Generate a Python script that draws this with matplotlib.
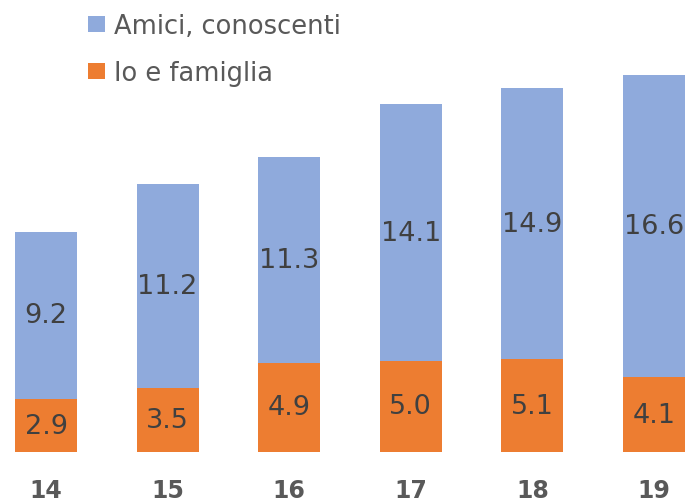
import numpy as np
import matplotlib.pyplot as plt

plt.rcParams['font.family'] = ['DejaVu Sans']

anni = ['14', '15', '16', '17', '18', '19']
io_famiglia = [2.9, 3.5, 4.9, 5.0, 5.1, 4.1]
amici = [9.2, 11.2, 11.3, 14.1, 14.9, 16.6]

col_blu = '#8FAADC'
col_arancio = '#ED7D31'
col_testo = '#404040'

fig = plt.figure(figsize=(6.92, 5.02), dpi=100)
# axes bottom sits on the bar baseline
ax = fig.add_axes([0, 49 / 502, 1, 453 / 502])

x = np.arange(len(anni))
b1 = ax.bar(x, io_famiglia, width=0.51, color=col_arancio, label='Io e famiglia')
b2 = ax.bar(x, amici, width=0.51, bottom=io_famiglia, color=col_blu, label='Amici, conoscenti')

for i in range(len(anni)):
    ax.text(x[i], io_famiglia[i] / 2, f'{io_famiglia[i]:.1f}', ha='center', va='center',
            fontsize=19.5, color=col_testo)
    ax.text(x[i], io_famiglia[i] + amici[i] / 2, f'{amici[i]:.1f}', ha='center', va='center',
            fontsize=19.5, color=col_testo)

ax.set_xlim(-46 / 121.6, (692 - 46) / 121.6)
ax.set_ylim(0, 453 / 18.2)
ax.set_xticks(x)
ax.set_xticklabels(anni, fontsize=17, fontweight='bold', color='#595959')
ax.tick_params(axis='x', length=0, pad=19)
ax.set_yticks([])
for s in ax.spines.values():
    s.set_visible(False)

ax.legend(handles=[b2, b1], loc='upper left', bbox_to_anchor=(88 / 692, 1 - 14 / 502),
          bbox_transform=fig.transFigure, frameon=False, fontsize=18.5,
          handlelength=0.66, handleheight=0.6, handletextpad=0.35, labelspacing=0.82,
          borderpad=0, borderaxespad=0, labelcolor='#595959')

fig.savefig('out.png', dpi=100)
